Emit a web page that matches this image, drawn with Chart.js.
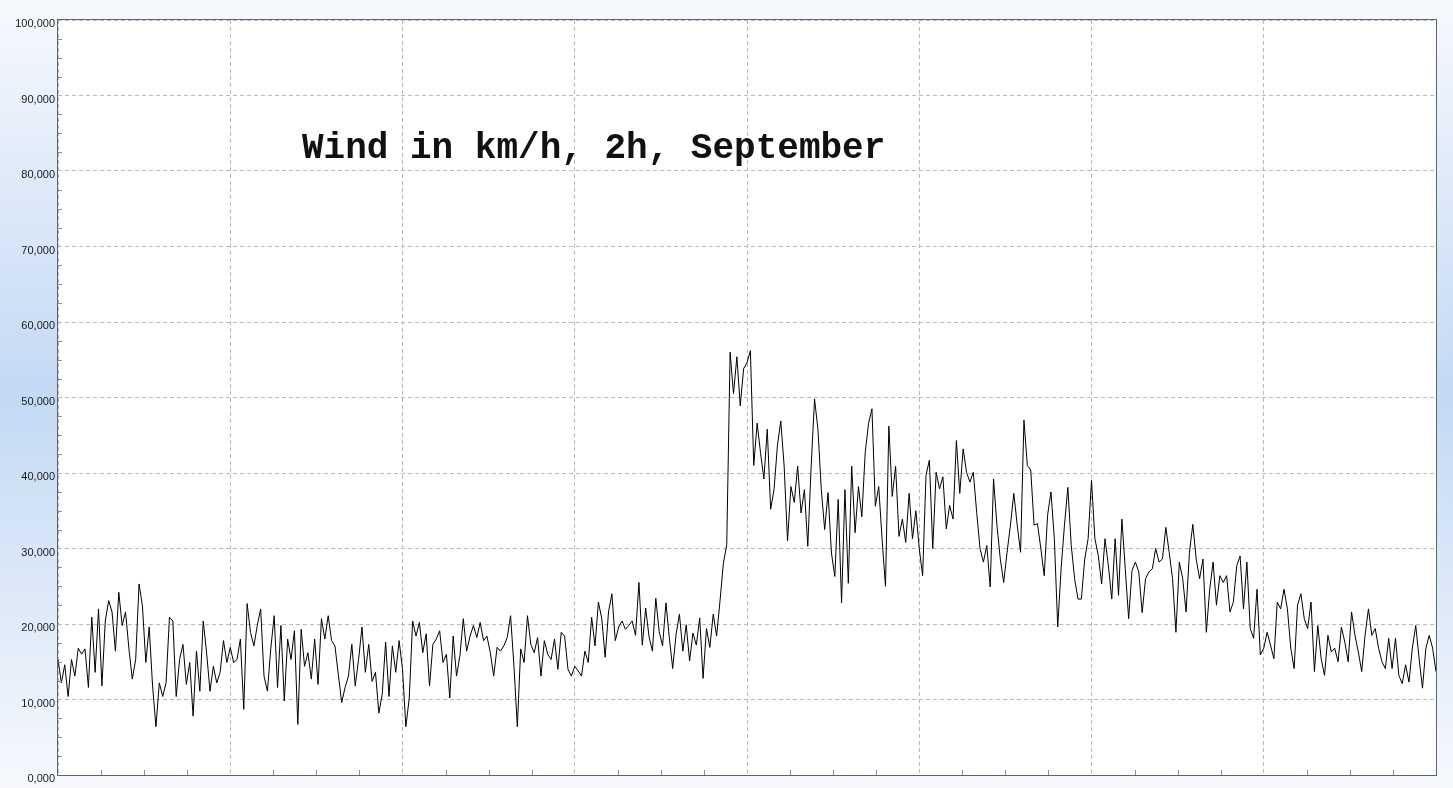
<!DOCTYPE html>
<html>
<head>
<meta charset="utf-8">
<title>Wind in km/h, 2h, September</title>
<script src="https://cdn.jsdelivr.net/npm/chart.js@4"></script>
<style>
  html, body { margin: 0; padding: 0; background: #fff; }
  canvas { display: block; }
</style>
</head>
<body>
<canvas id="chart" width="1453" height="788"></canvas>
<script>
const chartTitle = "Wind in km/h, 2h, September"

const yTickLabels = ["0,000", "10,000", "20,000", "30,000", "40,000", "50,000",
  "60,000", "70,000", "80,000", "90,000", "100,000"]

// wind speed in km/h from left to right
const windSpeed = [
  15.3, 12.2, 14.6, 10.4, 15.3, 13.1, 16.8, 16, 16.7, 11.6, 20.9, 13.6, 22, 11.8, 20.4, 23.1,
  21.6, 16.4, 24.2, 19.8, 21.6, 16.7, 12.7, 15.3, 25.3, 22.4, 14.9, 19.6, 11.8, 6.4, 12.2, 10.4,
  12.2, 20.9, 20.4, 10.4, 15.3, 17.3, 12, 14.9, 7.8, 16.4, 11.1, 20.4, 16.2, 11.1, 14.4, 12.2,
  13.6, 17.8, 14.9, 16.9, 14.9, 15.3, 18, 8.7, 22.7, 18.9, 17.1, 19.8, 22, 13.1, 11.1, 16.7,
  21.1, 11.6, 19.8, 9.8, 18, 15.3, 19.1, 6.7, 19.3, 14.4, 16.2, 12.7, 18, 12, 20.7, 18, 21.1,
  17.8, 17.1,

  13.3, 9.6, 11.6, 13.1, 17.3, 11.8, 15.3, 19.6, 13.6, 17.3, 12.4, 13.6, 8.2, 10.7, 17.6, 10.4,
  17.1, 13.6, 17.8, 14, 6.4, 10.2, 20.4, 18.4, 20.2, 16.2, 18.7, 11.8, 17.3, 18, 19.1, 14.9,
  16, 10.2, 18.4, 13.1, 15.8, 20.7, 16.4, 18.4, 19.8, 18.2, 20.2, 17.8, 18.4, 16.2, 13.1, 16.9,
  16.4, 17.1, 18.2, 21.1, 14.4, 6.4, 16.7, 14.9, 21.1, 17.3, 16.2, 18.2, 13.1, 17.8, 16, 15.3,
  18, 14, 18.9, 18.4, 14, 13.1, 14.4, 13.8, 13.1, 16.4, 14.9, 20.9, 17.1, 22.9, 20.7, 15.6,
  21.6, 24, 17.8, 19.6, 20.4, 19.3, 19.8,

  20.4, 18.5, 25.5, 17.2, 22.1, 18.3, 16.4, 23.4, 19, 17.1, 22.8, 18.2, 14.1, 18.6,
  21.3, 16.4, 19.9, 15.1, 18.8, 17.2, 20.8, 12.8, 19.4, 16.9, 21.3, 18.4,
  23, 28, 30.5,

  56, 50.5, 55.4, 48.9, 53.8, 54.6, 56.2, 41, 46.6, 42.7, 39.2, 45.8, 35.2, 37.8, 43.6, 46.9,
  40.9, 31, 38.2, 36.1, 40.9, 34.7, 37.8, 30.3, 40.9, 49.8, 45.8, 37.8, 32.5, 37.4, 29.4, 26.3,
  36.5, 22.8, 37.8, 25.4, 40.9, 32.1, 38.2, 34.2, 42.7, 46.6, 48.5, 35.6, 38.2, 31.2, 25, 46.2,
  36.9, 40.9, 31.6,

  33.9, 30.8, 37.3, 31.3, 35, 30, 26.4, 39.7, 41.7, 30, 40.1, 37.9, 39.5, 32.6, 35.7, 33.9,
  44.3, 37.3, 43.2, 40.1, 38.8, 40.1, 34.8, 30, 28.2, 30.4, 24.9, 39.2, 33.1, 28.6, 25.5, 29.5,
  33.1, 37.3, 33.1, 29.5, 47, 41, 40.4, 33.1, 33.3, 30, 26.4, 34.4, 37.5, 31.3, 19.6, 27.3,
  33.1, 38.1, 30.4, 26, 23.3, 23.3, 28.6, 31.3, 39, 31.3, 29.1, 25.3, 31.3, 27.7, 23.3, 31.3,
  23.8, 33.9, 27.3, 20.7, 27.1, 28.2, 26.9, 21.5, 26, 26.9, 27.3, 30, 28.2, 28.6, 32.8, 29.5,
  26, 18.9, 28.2,

  26, 21.6, 29.5, 33.2, 28.6, 26, 28.6, 18.9, 24.6, 28.2, 22.5, 26.4, 25.5, 26.4, 21.6, 22.9,
  27.7, 29, 22, 28.2, 19.4, 18.1, 24.6, 15.9, 16.8, 18.9, 17.2, 15.4, 22.9, 22, 24.6, 22,
  16.8, 14.1, 22.5, 24, 20.7, 19.4, 22.9, 13.7, 19.8, 15.4, 13.2, 18.5, 16.3, 16.8, 15, 19.6,
  17.6, 15, 21.6, 18.5, 16.3, 13.7, 18.5, 22, 18.5, 19.4, 16.8, 15, 14.1, 18.1, 14.1, 18.1,
  13.2, 12.1, 14.6, 12.3, 16.8, 19.8, 15.4, 11.5, 16.8, 18.5, 16.8, 13.7
]

const lastIndex = windSpeed.length - 1

// backdrop, frame, minor ticks and the title inside the plot
const decorations = {
  id: "decorations",
  beforeDraw(chart) {
    const { ctx, chartArea: a, width, height } = chart
    const g = ctx.createLinearGradient(0, 0, 0, height)
    g.addColorStop(0, "#f7f9fd")
    g.addColorStop(0.5, "#c3d9f4")
    g.addColorStop(1, "#f7f9fd")
    ctx.save()
    ctx.fillStyle = g
    ctx.fillRect(0, 0, width, height)
    ctx.fillStyle = "#ffffff"
    ctx.fillRect(a.left, a.top, a.right - a.left, a.bottom - a.top)
    ctx.restore()
  },
  afterDraw(chart) {
    const { ctx, chartArea: a, scales: { x, y } } = chart
    ctx.save()
    ctx.strokeStyle = "#8a8f96"
    ctx.lineWidth = 1
    ctx.beginPath()
    for (let v = 2.5; v < 100; v += 2.5) {
      if (v % 10 === 0) continue
      const py = Math.round(y.getPixelForValue(v)) + 0.5
      ctx.moveTo(a.left, py)
      ctx.lineTo(a.left + 4, py)
    }
    for (let i = 1; i < 32; i++) {
      if (i % 4 === 0) continue
      const px = Math.round(x.getPixelForValue(i * lastIndex / 32)) + 0.5
      ctx.moveTo(px, a.bottom)
      ctx.lineTo(px, a.bottom - 5)
    }
    ctx.stroke()

    ctx.strokeStyle = "#5b636c"
    ctx.strokeRect(Math.round(a.left) - 0.5, Math.round(a.top) - 0.5,
      Math.round(a.right - a.left) + 1, Math.round(a.bottom - a.top) + 1)

    ctx.fillStyle = "#111111"
    ctx.font = "bold 36px 'Liberation Mono', 'Courier New', monospace"
    ctx.textBaseline = "alphabetic"
    ctx.fillText(chartTitle, a.left + 244, a.top + 138)
    ctx.restore()
  }
}

new Chart(document.getElementById("chart"), {
  type: "line",
  data: {
    datasets: [{
      label: "Wind",
      data: windSpeed.map((v, i) => ({ x: i, y: v })),
      borderColor: "#000000",
      borderWidth: 1,
      pointRadius: 0,
      tension: 0,
      fill: false
    }]
  },
  options: {
    responsive: false,
    animation: false,
    layout: { padding: { left: 2, top: 20, right: 17, bottom: 13 } },
    plugins: {
      legend: { display: false },
      tooltip: { enabled: false }
    },
    scales: {
      x: {
        type: "linear",
        min: 0,
        max: lastIndex,
        afterFit: (scale) => { scale.height = 0 },
        ticks: { display: false, count: 9 },
        grid: { color: "#b9b9b9", drawTicks: false, lineWidth: 1 },
        border: { display: false, dash: [4, 3] }
      },
      y: {
        min: 0,
        max: 100,
        afterFit: (scale) => { scale.width = 56 },
        ticks: {
          stepSize: 10,
          padding: 3,
          labelOffset: 4,
          color: "#1a1a1a",
          font: { family: "'Liberation Sans', Arial, sans-serif", size: 11 },
          callback: (value) => yTickLabels[Math.round(value / 10)]
        },
        grid: { color: "#b9b9b9", drawTicks: false, lineWidth: 1 },
        border: { display: false, dash: [4, 3] }
      }
    }
  },
  plugins: [decorations]
})
</script>
</body>
</html>
